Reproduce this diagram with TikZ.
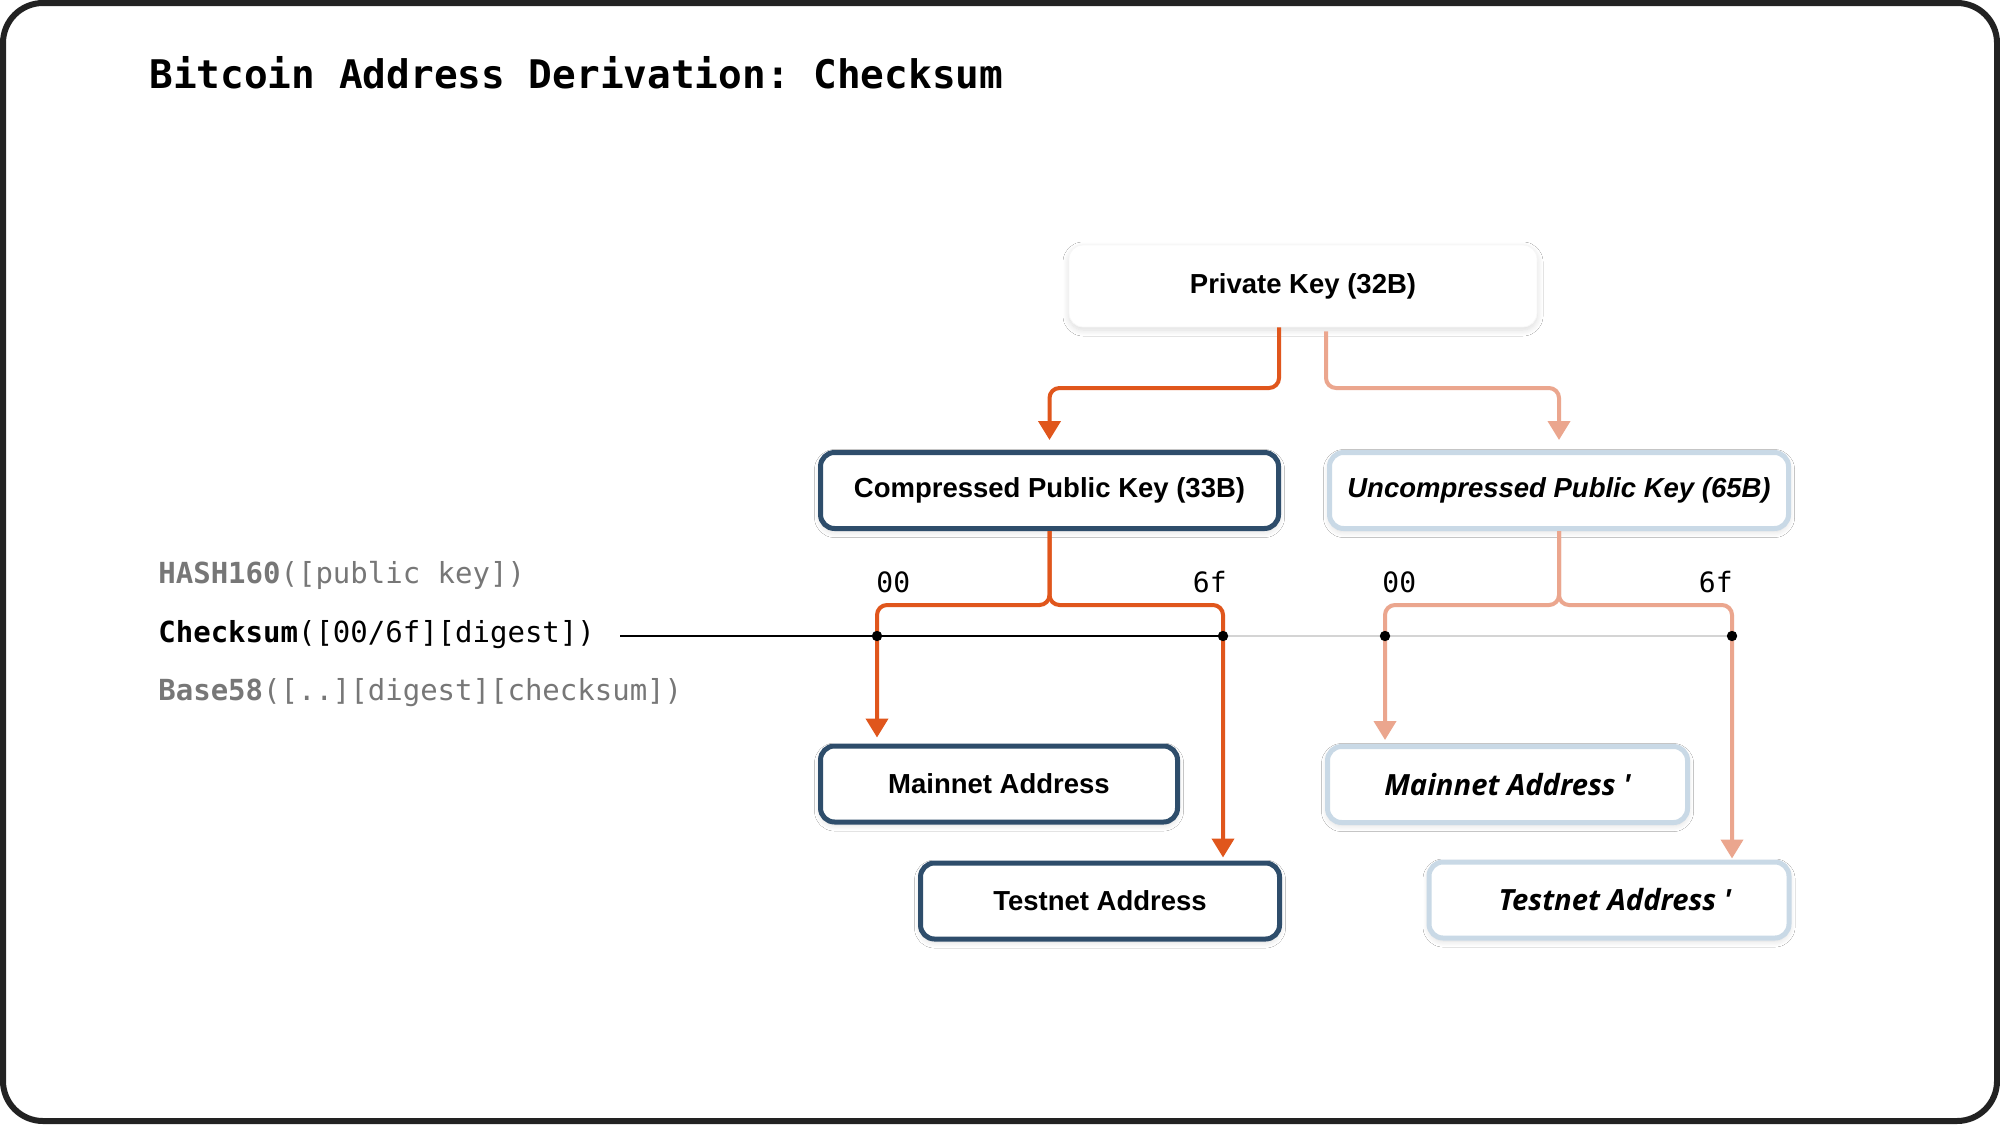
\documentclass[tikz,border=0pt]{standalone}
\usepackage{fontspec}
\setmainfont{Liberation Sans}
\setmonofont{DejaVu Sans Mono}
\newfontfamily\osans{Open Sans}
\usetikzlibrary{arrows.meta,shadows.blur}
\definecolor{dor}{HTML}{E0561C}
\definecolor{lor}{HTML}{EBA68E}
\definecolor{dbl}{HTML}{2E4D6B}
\definecolor{lbl}{HTML}{C9D9E6}
\definecolor{gtx}{HTML}{777777}
\definecolor{frm}{HTML}{222222}
\definecolor{gln}{HTML}{D4D4D4}
\begin{document}
\begin{tikzpicture}[x=0.5pt,y=-0.5pt,
  box/.style={rounded corners=7pt, fill=white, align=center, inner sep=0pt,
    minimum height=38pt, font=\fontsize{13.75}{16}\selectfont\bfseries,
    blur shadow={shadow xshift=0pt, shadow yshift=-1.5pt, shadow blur steps=8,
      shadow blur radius=3pt, shadow opacity=14}},
  darkbox/.style={box, draw=dbl, line width=2.5pt},
  lightbox/.style={box, draw=lbl, line width=2.5pt},
  privbox/.style={box, draw=gray!6, line width=0.4pt, minimum height=41pt},
  conn/.style={line width=2pt, rounded corners=5pt, -{Triangle[width=11pt,length=9.5pt]}},
  mono/.style={font=\ttfamily\fontsize{14.5}{17}\selectfont, inner sep=0pt},
  lab/.style={font=\ttfamily\fontsize{14}{16}\selectfont, inner sep=0pt},
  osfont/.style={font=\osans\fontsize{14.6}{17}\selectfont\bfseries\itshape},
  dot/.style={fill=black}
]
\useasboundingbox (0,0) rectangle (2000,1124);
\fill[white] (0,0) rectangle (2000,1124);
\draw[frm, line width=3pt, rounded corners=20pt] (3,3) rectangle (1997,1121);

% title
\node[anchor=base west, inner sep=0pt, font=\ttfamily\bfseries\fontsize{19.7}{22}\selectfont] (title) at (149,88) {Bitcoin Address Derivation: Checksum};

% left texts
\node[mono, text=gtx, anchor=west] (h160) at (158,575) {\textbf{HASH160}([public key])};
\node[mono, anchor=west] (cks) at (158,635) {\textbf{Checksum}([00/6f][digest])};
\node[mono, text=gtx, anchor=west] (b58) at (158,693) {\textbf{Base58}([..][digest][checksum])};

% boxes
\node[privbox, minimum width=234pt] (priv) at (1303,286) {Private Key (32B)};
\node[darkbox, minimum width=229pt] (cpk) at (1049.5,490.5) {Compressed Public Key (33B)};
\node[lightbox, minimum width=229.5pt, font=\fontsize{13.75}{16}\selectfont\bfseries\itshape] (upk) at (1559,490.5) {Uncompressed Public Key (65B)};
\node[darkbox, minimum width=178.5pt] (mna) at (999,784) {Mainnet Address};
\node[darkbox, minimum width=179.5pt] (tna) at (1100,901) {Testnet Address};
\node[lightbox, osfont, minimum width=180pt] (mnb) at (1507.5,784.5) {Mainnet Address \symbol{39}};
\node[lightbox, osfont, minimum width=180pt] (tnb) at (1609,900) {\hspace*{6pt}Testnet Address \symbol{39}};

% coordinates
\coordinate (pk1) at (1279,388);
\coordinate (pk2) at (1326,388);
\coordinate (cb0) at (877,605);
\coordinate (cb1) at (1223,605);
\coordinate (ub0) at (1385,605);
\coordinate (ub1) at (1732,605);
\coordinate (c00) at (877,636);
\coordinate (c6f) at (1223,636);
\coordinate (u00) at (1385,636);
\coordinate (u6f) at (1732,636);
\coordinate (cl0) at (620,636);

% checksum line
\draw[black, line width=1pt] (cl0) -- (c6f);
\draw[gln, line width=1pt] (c6f) -- (u6f);

% connectors
\draw[dor, conn, shorten >=5pt] (priv.south -| pk1) -- (pk1) -| (cpk.north);
\draw[lor, conn, shorten >=5pt, shorten <=2pt] (priv.south -| pk2) -- (pk2) -| (upk.north);
\draw[dor, conn, shorten >=3pt] (cpk.south) |- (cb0) -- (mna.north -| cb0);
\draw[dor, conn, shorten >=1.5pt] (cpk.south) |- (cb1) -- (tna.north -| cb1);
\draw[lor, conn, shorten >=2pt] (upk.south) |- (ub0) -- (mnb.north -| ub0);
\draw[lor, conn, shorten >=0.5pt] (upk.south) |- (ub1) -- (tnb.north -| ub1);

% dots
\fill[dot] (c00) circle (2.6pt);
\fill[dot] (c6f) circle (2.6pt);
\fill[dot] (u00) circle (2.6pt);
\fill[dot] (u6f) circle (2.6pt);

% labels
\node[lab, anchor=base west] (l00a) at (876,592) {00};
\node[lab, anchor=base east] (l6fa) at (1227,592) {6f};
\node[lab, anchor=base west] (l00b) at (1382,592) {00};
\node[lab, anchor=base east] (l6fb) at (1733,592) {6f};
\end{tikzpicture}
\end{document}
